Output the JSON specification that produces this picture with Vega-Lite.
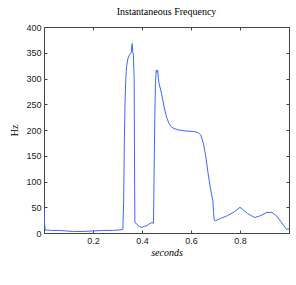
{
  "$schema": "https://vega.github.io/schema/vega-lite/v6.json",
  "autosize": "none",
  "width": 245,
  "height": 206,
  "padding": {"left": 44, "top": 27, "right": 7, "bottom": 52},
  "background": "white",
  "config": {
    "view": {"stroke": "#444444", "strokeWidth": 1},
    "axis": {"labelFont": "Liberation Sans", "labelFontSize": 9, "labelColor": "#222222", "titleFont": "Liberation Serif", "titleFontSize": 10, "titleFontWeight": "normal", "titleColor": "black", "tickColor": "#444444", "domainColor": "#444444", "grid": false, "tickSize": -3, "labelPadding": 6}
  },
  "title": {"text": "Instantaneous Frequency", "font": "Liberation Serif", "fontSize": 10, "fontWeight": "normal", "color": "black", "offset": 6},
  "data": {"values": [
    {"t":0,"f":48},{"t":0.002,"f":20},{"t":0.005,"f":6},{"t":0.03,"f":5},{"t":0.06,"f":5},{"t":0.09,"f":4},{"t":0.12,"f":3},{"t":0.16,"f":3},{"t":0.2,"f":4},{"t":0.24,"f":5},{"t":0.28,"f":5},{"t":0.31,"f":6},{"t":0.322,"f":7},{"t":0.325,"f":60},{"t":0.328,"f":180},{"t":0.331,"f":258},{"t":0.334,"f":300},{"t":0.337,"f":323},{"t":0.342,"f":338},{"t":0.348,"f":345},{"t":0.352,"f":348},{"t":0.356,"f":350},{"t":0.358,"f":362},{"t":0.36,"f":368},{"t":0.362,"f":352},{"t":0.365,"f":345},{"t":0.368,"f":300},{"t":0.369,"f":200},{"t":0.37,"f":80},{"t":0.371,"f":20},{"t":0.38,"f":17},{"t":0.39,"f":12},{"t":0.4,"f":11},{"t":0.41,"f":13},{"t":0.42,"f":14},{"t":0.43,"f":18},{"t":0.44,"f":20},{"t":0.447,"f":19},{"t":0.449,"f":100},{"t":0.452,"f":220},{"t":0.455,"f":290},{"t":0.458,"f":316},{"t":0.461,"f":312},{"t":0.464,"f":316},{"t":0.467,"f":300},{"t":0.47,"f":290},{"t":0.48,"f":270},{"t":0.49,"f":245},{"t":0.5,"f":225},{"t":0.51,"f":213},{"t":0.52,"f":206},{"t":0.53,"f":203},{"t":0.55,"f":200},{"t":0.58,"f":198},{"t":0.61,"f":197},{"t":0.63,"f":195},{"t":0.64,"f":190},{"t":0.65,"f":175},{"t":0.66,"f":150},{"t":0.67,"f":115},{"t":0.68,"f":85},{"t":0.69,"f":60},{"t":0.692,"f":40},{"t":0.695,"f":25},{"t":0.7,"f":24},{"t":0.72,"f":28},{"t":0.75,"f":34},{"t":0.78,"f":42},{"t":0.8,"f":50},{"t":0.81,"f":46},{"t":0.83,"f":38},{"t":0.86,"f":30},{"t":0.88,"f":33},{"t":0.91,"f":40},{"t":0.93,"f":40},{"t":0.95,"f":33},{"t":0.97,"f":20},{"t":0.99,"f":7},{"t":1.0,"f":8}
  ]},
  "layer": [
    {
      "mark": {"type": "line", "color": "#3d68ff", "strokeWidth": 1, "clip": true},
      "encoding": {
        "x": {"field": "t", "type": "quantitative", "scale": {"domain": [0, 1], "nice": false, "zero": false}, "axis": {"title": "seconds", "titleFontStyle": "italic", "values": [0.2, 0.4, 0.6, 0.8], "format": ".1f", "titlePadding": 2}},
        "y": {"field": "f", "type": "quantitative", "scale": {"domain": [0, 400], "nice": false}, "axis": {"title": "Hz", "values": [0, 50, 100, 150, 200, 250, 300, 350, 400], "titlePadding": 6}}
      }
    },
    {
      "mark": {"type": "line", "opacity": 0},
      "encoding": {
        "x": {"field": "t", "type": "quantitative", "scale": {"domain": [0, 1], "nice": false, "zero": false}, "axis": {"orient": "top", "title": null, "labels": false, "values": [0.2, 0.4, 0.6, 0.8]}},
        "y": {"field": "f", "type": "quantitative", "scale": {"domain": [0, 400], "nice": false}, "axis": {"orient": "right", "title": null, "labels": false, "values": [0, 50, 100, 150, 200, 250, 300, 350, 400]}}
      }
    }
  ],
  "resolve": {"axis": {"x": "independent", "y": "independent"}}
}
